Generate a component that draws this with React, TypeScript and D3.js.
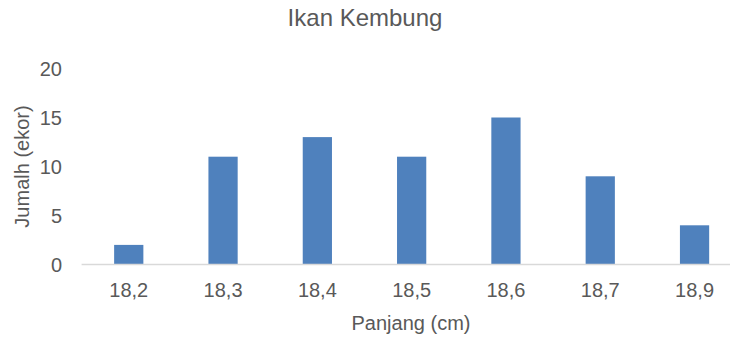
import React from "react";
import * as d3 from "d3";

const categories = ["18,2", "18,3", "18,4", "18,5", "18,6", "18,7", "18,9"];
const values = [2, 11, 13, 11, 15, 9, 4];
const yTicks = [0, 5, 10, 15, 20];
const title = "Ikan Kembung";
const xTitle = "Panjang (cm)";
const yTitle = "Jumalh (ekor)";

const W = 730;
const H = 340;
const left = 81.6;
const right = 741.7;
const top = 68.5;
const bottom = 264.5;
const textColor = "#595959";
const font = "Arial, 'Liberation Sans', sans-serif";

export default function App() {
  const x = d3.scaleBand<string>().domain(categories).range([left, right]).paddingInner(0.69).paddingOuter(0.345);
  const y = d3.scaleLinear().domain([0, 20]).range([bottom, top]);
  return (
    <svg width={W} height={H} style={{ position: "absolute", left: 0, top: 0, background: "#fff" }} fontFamily={font}>
      <rect x={0} y={0} width={W} height={H} fill="#fff" />
      <text x={W / 2} y={26} textAnchor="middle" fontSize={24} fill={textColor}>{title}</text>
      {yTicks.map((t) => (
        <text key={t} x={62} y={y(t)} dy="0.35em" textAnchor="end" fontSize={20} fill={textColor}>{t}</text>
      ))}
      {categories.map((c, i) => (
        <rect key={c} x={x(c)} y={y(values[i])} width={x.bandwidth()} height={y(0) - y(values[i])} fill="#4F81BD" />
      ))}
      <line x1={left} x2={right} y1={bottom} y2={bottom} stroke="#D9D9D9" strokeWidth={1.3} />
      {categories.map((c) => (
        <text key={c} x={(x(c) as number) + x.bandwidth() / 2} y={290} dy="0.35em" textAnchor="middle" fontSize={20} fill={textColor}>{c}</text>
      ))}
      <text x={411} y={323} dy="0.35em" textAnchor="middle" fontSize={20} fill={textColor}>{xTitle}</text>
      <text transform={`translate(22,${(top + bottom) / 2}) rotate(-90)`} dy="0.35em" textAnchor="middle" fontSize={20} fill={textColor}>{yTitle}</text>
    </svg>
  );
}
